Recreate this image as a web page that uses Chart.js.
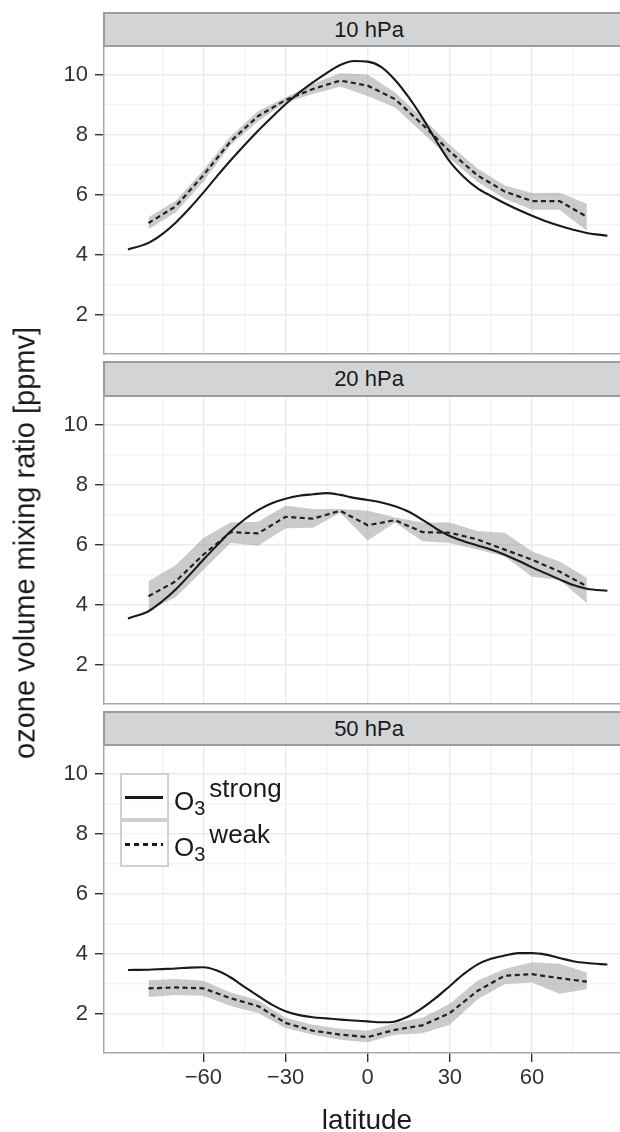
<!DOCTYPE html>
<html>
<head>
<meta charset="utf-8">
<script src="https://cdn.jsdelivr.net/npm/chart.js@4.4.1/dist/chart.umd.min.js"></script>
<style>
  html, body { margin: 0; padding: 0; background: #fff; }
  body { width: 620px; height: 1132px; position: relative; overflow: hidden; font-family: "Liberation Sans", Arial, sans-serif; color: #1a1a1a; }
  canvas { position: absolute; left: 0; }
  .strip { position: absolute; left: 103px; width: 540px; box-sizing: border-box; background: #d3d4d6;
           border: 2px solid #9c9c9c; border-right: none; font-size: 22px; z-index: 5; }
  .strip span { position: absolute; left: 264px; transform: translateX(-50%); top: 50%; margin-top: -13px; line-height: 26px; white-space: nowrap; }
  .ytitle { position: absolute; left: 25px; top: 543px; font-size: 29px; line-height: 29px; white-space: nowrap;
            transform: translate(-50%, -50%) rotate(-90deg); }
  .xtitle { position: absolute; left: 367px; top: 1104px; font-size: 28px; line-height: 32px; transform: translateX(-50%); white-space: nowrap; }
  .lgbox { position: absolute; left: 120px; width: 49px; height: 47px; box-sizing: border-box; border: 2px solid #d0d0d0; z-index: 6; background: rgba(255,255,255,0.6); }
  .lgline { position: absolute; left: 125px; width: 38px; height: 2.5px; z-index: 7; }
  .lglab { position: absolute; left: 174px; font-size: 26px; line-height: 26px; white-space: nowrap; z-index: 7; }
  .lglab .sb { position: relative; top: 5px; font-size: 20px; }
  .lglab .sp { position: relative; top: -13px; font-size: 26px; margin-left: 4px; }
</style>
</head>
<body>
<canvas id="p1"></canvas>
<canvas id="p2"></canvas>
<canvas id="p3"></canvas>

<div class="strip" style="top:12px;height:35px;"><span>10 hPa</span></div>
<div class="strip" style="top:361px;height:36px;"><span>20 hPa</span></div>
<div class="strip" style="top:711px;height:35px;"><span>50 hPa</span></div>

<div class="ytitle">ozone volume mixing ratio [ppmv]</div>
<div class="xtitle">latitude</div>

<div class="lgbox" style="top:773px;"></div>
<div class="lgbox" style="top:820px;"></div>
<div class="lgline" style="top:796px;background:#1a1a1a;"></div>
<div class="lgline" style="top:843px;background:repeating-linear-gradient(90deg,#1a1a1a 0 5px,transparent 5px 9px);"></div>
<div class="lglab" style="top:788px;">O<span class="sb">3</span><span class="sp">strong</span></div>
<div class="lglab" style="top:834px;">O<span class="sb">3</span><span class="sp">weak</span></div>

<script>
// latitudes
var latStrong = [-87.5, -80, -75, -70, -65, -60, -55, -50, -45, -40, -35, -30, -25, -20, -15, -10, -5,
                 0, 5, 10, 15, 20, 25, 30, 35, 40, 45, 50, 55, 60, 65, 70, 75, 80, 87.5];
var latWeak = [-80, -70, -60, -50, -40, -30, -20, -10, 0, 10, 20, 30, 40, 50, 60, 70, 80];

// 10 hPa
var strong10 = [4.18, 4.40, 4.69, 5.08, 5.55, 6.07, 6.62, 7.15, 7.65, 8.13, 8.58, 9.01, 9.40, 9.74, 10.05, 10.32, 10.45,
                10.43, 10.25, 9.82, 9.24, 8.56, 7.80, 7.10, 6.60, 6.22, 5.96, 5.72, 5.50, 5.30, 5.12, 4.97, 4.84, 4.73, 4.64];
var weak10   = [5.06, 5.62, 6.65, 7.78, 8.62, 9.15, 9.52, 9.80, 9.63, 9.18, 8.34, 7.44, 6.65, 6.11, 5.79, 5.79, 5.27];
var weak10Hi = [5.25, 5.80, 6.82, 7.95, 8.79, 9.24, 9.69, 10.04, 10.00, 9.40, 8.56, 7.66, 6.88, 6.31, 6.06, 6.07, 5.70];
var weak10Lo = [4.85, 5.42, 6.43, 7.66, 8.45, 9.07, 9.35, 9.60, 9.29, 8.90, 8.06, 7.21, 6.43, 5.87, 5.50, 5.50, 4.80];

// 20 hPa
var strong20 = [3.55, 3.79, 4.12, 4.52, 5.00, 5.50, 5.98, 6.45, 6.84, 7.15, 7.38, 7.53, 7.63, 7.68, 7.72, 7.66, 7.56,
                7.49, 7.41, 7.28, 7.10, 6.83, 6.54, 6.29, 6.12, 5.98, 5.84, 5.67, 5.47, 5.25, 5.05, 4.85, 4.66, 4.54, 4.47];
var weak20   = [4.29, 4.79, 5.67, 6.42, 6.38, 6.93, 6.87, 7.13, 6.65, 6.82, 6.42, 6.40, 6.18, 5.84, 5.50, 5.11, 4.62];
var weak20Hi = [4.79, 5.33, 6.23, 6.74, 6.77, 7.30, 7.19, 7.19, 7.13, 6.91, 6.74, 6.74, 6.46, 6.40, 5.78, 5.44, 4.90];
var weak20Lo = [3.81, 4.26, 5.16, 6.06, 5.97, 6.55, 6.57, 7.07, 6.14, 6.74, 6.12, 6.06, 5.84, 5.61, 4.94, 4.83, 4.06];

// 50 hPa
var strong50 = [3.47, 3.48, 3.50, 3.52, 3.55, 3.56, 3.45, 3.22, 2.91, 2.61, 2.32, 2.10, 1.97, 1.90, 1.86, 1.82, 1.79,
                1.76, 1.73, 1.76, 1.93, 2.21, 2.55, 2.94, 3.33, 3.65, 3.84, 3.95, 4.03, 4.03, 3.98, 3.87, 3.76, 3.70, 3.65];
var weak50   = [2.86, 2.89, 2.86, 2.53, 2.27, 1.71, 1.45, 1.32, 1.24, 1.48, 1.63, 2.04, 2.77, 3.28, 3.33, 3.20, 3.08];
var weak50Hi = [3.13, 3.17, 3.11, 2.72, 2.46, 1.88, 1.65, 1.52, 1.45, 1.71, 1.88, 2.35, 3.11, 3.50, 3.73, 3.68, 3.39];
var weak50Lo = [2.57, 2.64, 2.61, 2.27, 2.04, 1.54, 1.32, 1.15, 1.07, 1.32, 1.37, 1.65, 2.49, 3.00, 3.05, 2.68, 2.83];

var yTicks = [2, 4, 6, 8, 10];
var xTicks = [-60, -30, 0, 30, 60];

var FONT = "'Liberation Sans', Arial, sans-serif";
var PAD = 20;      // spare room above/below each plot panel
var PANEL_H = 307;

function pts(xs, ys) {
    return xs.map(function(x, i) { return {x: x, y: ys[i]}; });
}

function makePanel(id, top, strong, weak, hi, lo, showX) {
    var cv = document.getElementById(id);
    var bottomH = showX ? 60 : PAD;
    cv.width = 620;
    cv.height = PAD + PANEL_H + bottomH;
    cv.style.top = (top - PAD) + 'px';

    new Chart(cv, {
        type: 'line',
        data: {
            datasets: [
                { data: pts(latStrong, strong), borderColor: '#1a1a1a', borderWidth: 2.1,
                  pointRadius: 0, fill: false, cubicInterpolationMode: 'monotone' },
                { data: pts(latWeak, weak), borderColor: '#222', borderWidth: 2.2, borderDash: [5, 3.5],
                  pointRadius: 0, fill: false, tension: 0 },
                { data: pts(latWeak, hi), borderWidth: 0, borderColor: 'transparent', pointRadius: 0,
                  fill: '+1', backgroundColor: 'rgba(150,152,156,0.5)', tension: 0 },
                { data: pts(latWeak, lo), borderWidth: 0, borderColor: 'transparent', pointRadius: 0,
                  fill: false, tension: 0 }
            ]
        },
        options: {
            responsive: false,
            animation: false,
            layout: { padding: { top: PAD, bottom: 0, left: 0, right: 0 } },
            plugins: { legend: { display: false }, tooltip: { enabled: false } },
            scales: {
                x: {
                    type: 'linear', min: -96.25, max: 92.1,
                    afterFit: function(s) { s.height = bottomH; },
                    border: { display: true, color: '#a8a8a8', width: 1.5 },
                    grid: {
                        lineWidth: 1.4,
                        tickLength: showX ? 9 : 0,
                        drawTicks: showX,
                        color: function(c) {
                            var v = c.tick ? c.tick.value : 0;
                            if (Math.abs(v) >= 90) return 'transparent';
                            return v % 30 === 0 ? '#ebebeb' : '#f5f5f5';
                        },
                        tickColor: function(c) {
                            return c.tick && xTicks.indexOf(c.tick.value) >= 0 ? '#333' : 'transparent';
                        }
                    },
                    ticks: {
                        display: showX, stepSize: 15, includeBounds: false, autoSkip: false, maxRotation: 0,
                        padding: 3, color: '#333', font: { family: FONT, size: 22 },
                        callback: function(v) {
                            if (xTicks.indexOf(v) < 0) return '';
                            return v < 0 ? '\u2212' + Math.abs(v) : String(v);
                        }
                    }
                },
                y: {
                    type: 'linear', min: 0.71, max: 10.91,
                    afterFit: function(s) { s.width = 104; },
                    border: { display: true, color: '#a8a8a8', width: 1.5 },
                    grid: {
                        lineWidth: 1.4,
                        tickLength: 9,
                        color: function(c) {
                            var v = c.tick ? c.tick.value : 0;
                            if (v < 1.5) return 'transparent';
                            return v % 2 === 0 ? '#ebebeb' : '#f5f5f5';
                        },
                        tickColor: function(c) {
                            return c.tick && yTicks.indexOf(c.tick.value) >= 0 ? '#333' : 'transparent';
                        }
                    },
                    ticks: {
                        stepSize: 1, includeBounds: false, autoSkip: false, padding: 7,
                        color: '#333', font: { family: FONT, size: 22 },
                        callback: function(v) { return yTicks.indexOf(v) >= 0 ? String(v) : ''; }
                    }
                }
            }
        }
    });
}

makePanel('p1', 47, strong10, weak10, weak10Hi, weak10Lo, false);
makePanel('p2', 397, strong20, weak20, weak20Hi, weak20Lo, false);
makePanel('p3', 746, strong50, weak50, weak50Hi, weak50Lo, true);
</script>
</body>
</html>
